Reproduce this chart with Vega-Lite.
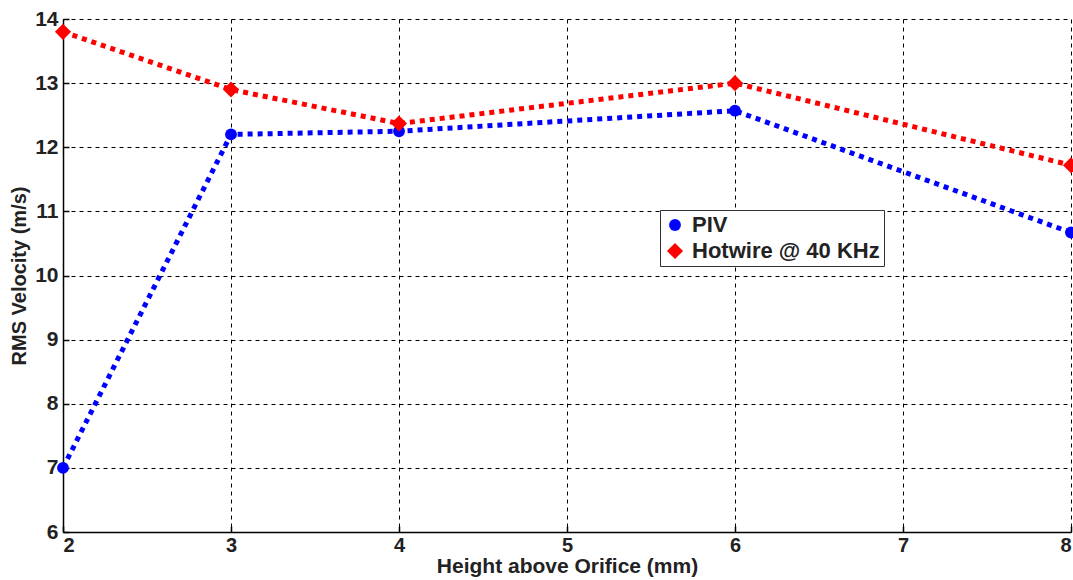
{
  "$schema": "https://vega.github.io/schema/vega-lite/v6.json",
  "width": 1008,
  "height": 513,
  "autosize": "none",
  "padding": {"left": 63, "top": 19, "right": 2, "bottom": 48},
  "background": "white",
  "config": {
    "view": {"stroke": null},
    "font": "Liberation Sans"
  },
  "data": {
    "values": [
      {"h": 2, "v": 7.0, "series": "PIV"},
      {"h": 3, "v": 12.2, "series": "PIV"},
      {"h": 4, "v": 12.25, "series": "PIV"},
      {"h": 6, "v": 12.57, "series": "PIV"},
      {"h": 8, "v": 10.67, "series": "PIV"},
      {"h": 2, "v": 13.8, "series": "Hotwire @ 40 KHz"},
      {"h": 3, "v": 12.9, "series": "Hotwire @ 40 KHz"},
      {"h": 4, "v": 12.37, "series": "Hotwire @ 40 KHz"},
      {"h": 6, "v": 13.0, "series": "Hotwire @ 40 KHz"},
      {"h": 8, "v": 11.72, "series": "Hotwire @ 40 KHz"}
    ]
  },
  "encoding": {
    "x": {
      "field": "h", "type": "quantitative",
      "scale": {"domain": [2, 8], "nice": false},
      "axis": {
        "title": "Height above Orifice (mm)",
        "values": [2, 3, 4, 5, 6, 7, 8],
        "format": "d",
        "labelFont": "Liberation Sans", "labelFontWeight": "bold", "labelFontSize": 20, "labelColor": "#222",
        "titleFont": "Liberation Sans", "titleFontWeight": "bold", "titleFontSize": 21, "titleColor": "#222",
        "titlePadding": 0,
        "labelPadding": 9,
        "domainColor": "black", "domainWidth": 1.5,
        "tickColor": "black", "tickSize": -6, "tickWidth": 1.5,
        "grid": true, "gridColor": "black", "gridDash": [4, 4], "gridWidth": 1, "gridOpacity": 1
      }
    },
    "y": {
      "field": "v", "type": "quantitative",
      "scale": {"domain": [6, 14], "nice": false},
      "axis": {
        "title": "RMS Velocity (m/s)",
        "values": [6, 7, 8, 9, 10, 11, 12, 13, 14],
        "labelFont": "Liberation Sans", "labelFontWeight": "bold", "labelFontSize": 21, "labelColor": "#222",
        "titleFont": "Liberation Sans", "titleFontWeight": "bold", "titleFontSize": 20, "titleColor": "#222",
        "titlePadding": 5,
        "labelPadding": 11,
        "domainColor": "black", "domainWidth": 1.5,
        "tickColor": "black", "tickSize": -6, "tickWidth": 1.5,
        "grid": true, "gridColor": "black", "gridDash": [4, 4], "gridWidth": 1, "gridOpacity": 1
      }
    }
  },
  "layer": [
    {
      "transform": [{"filter": "datum.series === 'PIV'"}],
      "mark": {"type": "line", "strokeWidth": 5, "strokeDash": [5, 5], "color": "#0000ff"}
    },
    {
      "transform": [{"filter": "datum.series !== 'PIV'"}],
      "mark": {"type": "line", "strokeWidth": 5, "strokeDash": [5, 5], "color": "#ff0000"}
    },
    {
      "mark": {"type": "point", "filled": true, "opacity": 1},
      "encoding": {
        "color": {
          "field": "series", "type": "nominal",
          "scale": {"domain": ["PIV", "Hotwire @ 40 KHz"], "range": ["#0000ff", "#ff0000"]},
          "legend": {
            "title": null,
            "orient": "none",
            "legendX": 597,
            "legendY": 191,
            "fillColor": "white",
            "strokeColor": "#333",
            "padding": 4,
            "labelFont": "Liberation Sans", "labelFontWeight": "bold", "labelFontSize": 22, "labelColor": "#222",
            "rowPadding": 4,
            "labelOffset": 6,
            "labelLimit": 300
          }
        },
        "shape": {
          "field": "series", "type": "nominal",
          "scale": {"domain": ["PIV", "Hotwire @ 40 KHz"], "range": ["circle", "diamond"]}
        },
        "size": {
          "field": "series", "type": "nominal",
          "scale": {"domain": ["PIV", "Hotwire @ 40 KHz"], "range": [140, 260]}
        }
      }
    }
  ]
}
